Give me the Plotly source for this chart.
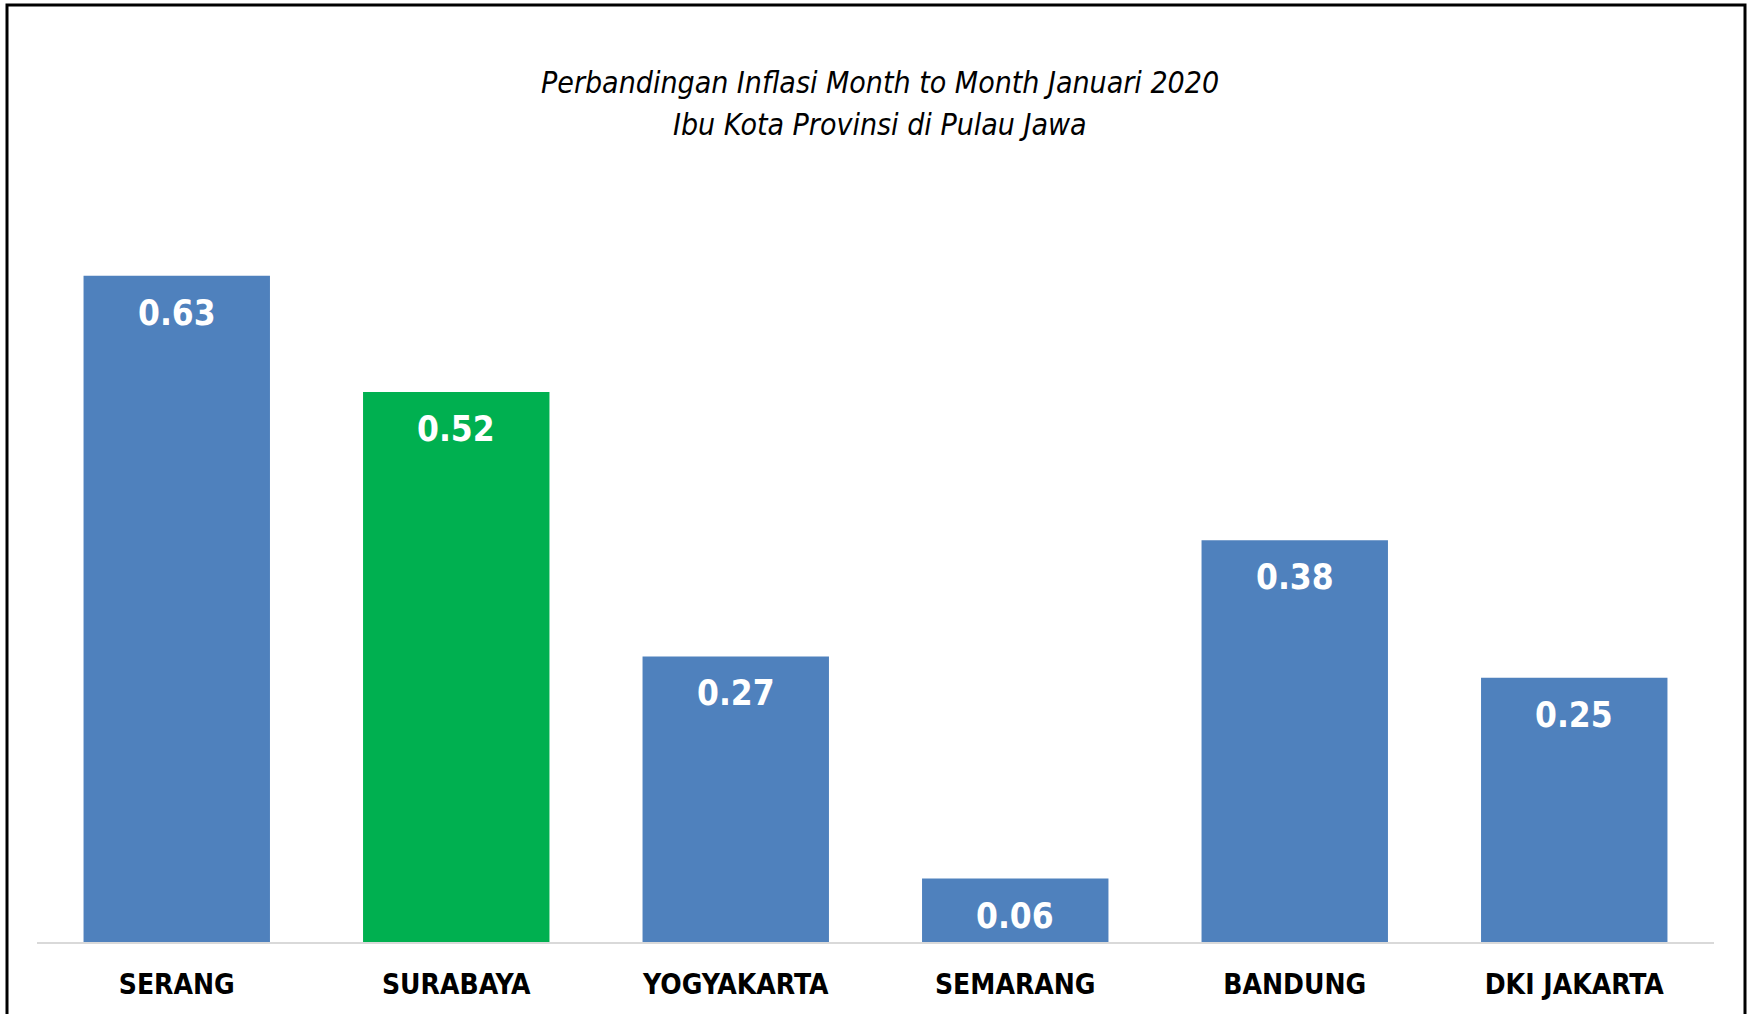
import plotly.graph_objects as go

categories = ["SERANG", "SURABAYA", "YOGYAKARTA", "SEMARANG", "BANDUNG", "DKI JAKARTA"]
values = [0.63, 0.52, 0.27, 0.06, 0.38, 0.25]
bar_colors = ["#4F81BD", "#00B050", "#4F81BD", "#4F81BD", "#4F81BD", "#4F81BD"]
title_lines = ["Perbandingan Inflasi Month to Month Januari 2020", "Ibu Kota Provinsi di Pulau Jawa"]

W, H = 1753, 1014
ml, mr, mt, mb = 37, 39, 96, 72
pw, ph = W - ml - mr, H - mt - mb

def px_to_paper_x(x):
    return (x - ml) / pw

def px_to_paper_y(y):
    return (H - mb - y) / ph

narrow = "DejaVu Sans Condensed, Liberation Sans Narrow, Arial Narrow, sans-serif"

fig = go.Figure(go.Bar(
    x=categories,
    y=values,
    marker=dict(color=bar_colors, line=dict(width=0)),
    hoverinfo="x+y",
    cliponaxis=False,
))

annotations = []
for line, ypx in zip(title_lines, [82, 124]):
    annotations.append(dict(
        text=f"<i>{line}</i>", x=px_to_paper_x(880), y=px_to_paper_y(ypx),
        xref="paper", yref="paper", xanchor="center", yanchor="middle",
        showarrow=False, font=dict(family=narrow, size=30, color="black"),
    ))

for cat, v in zip(categories, values):
    annotations.append(dict(
        text=f"{v:.2f}", x=cat, y=v, xref="x", yref="y",
        xanchor="center", yanchor="middle", yshift=-37, showarrow=False,
        font=dict(family=narrow, size=35, color="white", weight="bold"),
    ))

fig.update_layout(
    width=W, height=H,
    margin=dict(l=ml, r=mr, t=mt, b=mb),
    paper_bgcolor="white", plot_bgcolor="white",
    bargap=0.333,
    showlegend=False,
    annotations=annotations,
    xaxis=dict(
        showgrid=False, showline=True, linecolor="#D9D9D9", linewidth=2,
        ticks="", ticklabelstandoff=16,
        tickfont=dict(family=narrow, size=28, color="black", weight="bold"),
    ),
    yaxis=dict(range=[0, 0.8], visible=False, showgrid=False, zeroline=False),
    shapes=[dict(
        type="rect", xref="paper", yref="paper",
        x0=px_to_paper_x(7), x1=px_to_paper_x(1745),
        y0=px_to_paper_y(1030), y1=px_to_paper_y(5),
        line=dict(color="black", width=3), fillcolor="rgba(0,0,0,0)", layer="above",
    )],
)

fig.write_html("out.html", config={"displayModeBar": False},
               post_script="document.body.style.margin='0';")
